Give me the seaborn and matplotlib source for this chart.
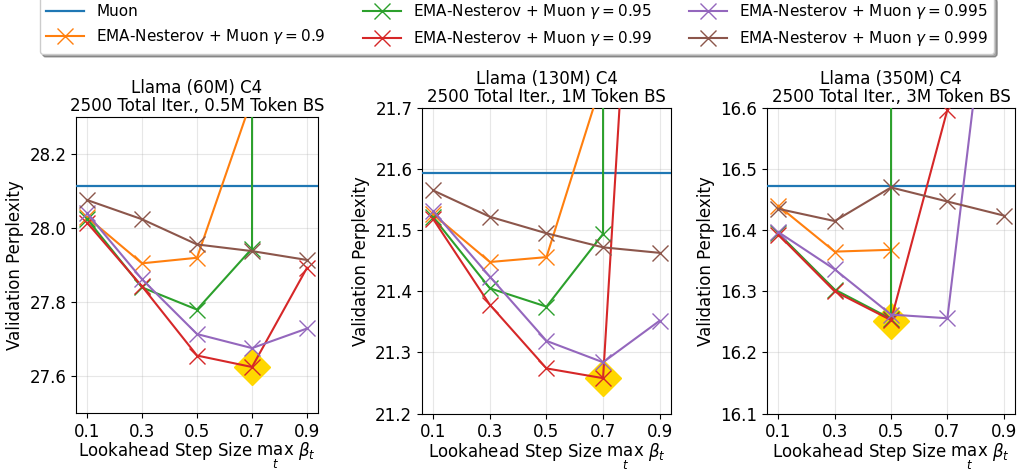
import numpy as np
import pandas as pd
import matplotlib
matplotlib.use("Agg")
import matplotlib.pyplot as plt
import seaborn as sns

# Lookahead step sizes swept for every configuration
betas = [0.1, 0.3, 0.5, 0.7, 0.9]
gammas = ["0.9", "0.95", "0.99", "0.995", "0.999"]

# Validation perplexity per gamma (NaN = run not reported, large = diverged)
ppl_60m = {
    "0.9":   [28.030, 27.905, 27.920, 28.350, np.nan],
    "0.95":  [28.025, 27.840, 27.780, 27.945, 400.0],
    "0.99":  [28.015, 27.843, 27.656, 27.625, 27.893],
    "0.995": [28.040, 27.862, 27.714, 27.676, 27.729],
    "0.999": [28.076, 28.024, 27.956, 27.938, 27.914],
}
ppl_130m = {
    "0.9":   [21.526, 21.448, 21.456, 21.750, np.nan],
    "0.95":  [21.521, 21.405, 21.375, 21.494, 400.0],
    "0.99":  [21.518, 21.378, 21.274, 21.258, 22.780],
    "0.995": [21.531, 21.424, 21.319, 21.284, 21.352],
    "0.999": [21.565, 21.522, 21.495, 21.472, 21.463],
}
ppl_350m = {
    "0.9":   [16.440, 16.365, 16.368, np.nan, np.nan],
    "0.95":  [16.395, 16.303, 16.255, 400.0, np.nan],
    "0.99":  [16.393, 16.300, 16.253, 16.597, np.nan],
    "0.995": [16.397, 16.336, 16.262, 16.256, 17.020],
    "0.999": [16.435, 16.415, 16.470, 16.447, 16.424],
}
muon_baseline = [28.114, 21.593, 16.473]
best_point = [(0.7, 27.625), (0.7, 21.258), (0.5, 16.252)]

titles = [
    "Llama (60M) C4\n2500 Total Iter., 0.5M Token BS",
    "Llama (130M) C4\n2500 Total Iter., 1M Token BS",
    "Llama (350M) C4\n2500 Total Iter., 3M Token BS",
]
ylims = [(27.5, 28.3), (21.2, 21.7), (16.1, 16.6)]
yticks = [
    [27.6, 27.8, 28.0, 28.2],
    [21.2, 21.3, 21.4, 21.5, 21.6, 21.7],
    [16.1, 16.2, 16.3, 16.4, 16.5, 16.6],
]
panels = [ppl_60m, ppl_130m, ppl_350m]

palette = sns.color_palette("tab10")
gamma_colors = {g: palette[i + 1] for i, g in enumerate(gammas)}

plt.rcParams["font.family"] = ["DejaVu Sans"]
plt.rcParams["mathtext.fontset"] = "dejavusans"

fig = plt.figure(figsize=(10.2, 4.71), dpi=100)
positions = [
    [0.0745, 0.1225, 0.2373, 0.629],
    [0.4137, 0.1218, 0.2441, 0.649],
    [0.7520, 0.1218, 0.2431, 0.649],
]

handles = None
for k, (data, pos) in enumerate(zip(panels, positions)):
    ax = fig.add_axes(pos)
    ax.axhline(muon_baseline[k], color=palette[0], lw=1.6, label="Muon", zorder=3)
    bx, by = best_point[k]
    ax.plot([bx], [by], marker="D", ms=18, color="gold", ls="none", zorder=2)
    for g in gammas:
        df = pd.DataFrame({"beta": betas, "ppl": data[g]}).dropna()
        c = gamma_colors[g]
        sns.lineplot(data=df, x="beta", y="ppl", ax=ax, color=c,
                     marker="x", markersize=12, markeredgewidth=1.0,
                     markeredgecolor=c, lw=1.5,
                     estimator=None, sort=False,
                     label=rf"EMA-Nesterov + Muon $\gamma = {g}$", zorder=4)
    if ax.get_legend() is not None:
        ax.get_legend().remove()
    ax.set_xlim(0.06, 0.94)
    ax.set_ylim(*ylims[k])
    ax.set_xticks(betas)
    ax.set_yticks(yticks[k])
    ax.set_xticklabels([f"{b:.1f}" for b in betas])
    ax.set_yticklabels([f"{t:.1f}" for t in yticks[k]])
    ax.tick_params(labelsize=12)
    ax.grid(True, color="#b0b0b0", alpha=0.3, lw=0.8)
    ax.set_axisbelow(True)
    ax.set_title(titles[k], fontsize=12, pad=4, linespacing=1.0)
    ax.set_xlabel(r"Lookahead Step Size $\max_t\ \beta_t$", fontsize=12, labelpad=0)
    ax.set_ylabel("Validation Perplexity", fontsize=12)
    if handles is None:
        handles, labels = ax.get_legend_handles_labels()

fig.legend(handles, labels,
           loc="upper center", bbox_to_anchor=(0.507, 1.008), ncol=3,
           fontsize=11, frameon=True, fancybox=True, shadow=True,
           handlelength=2.5, columnspacing=2.4, borderaxespad=0.0,
           labelspacing=0.5)

fig.savefig("out.png", dpi=100)
